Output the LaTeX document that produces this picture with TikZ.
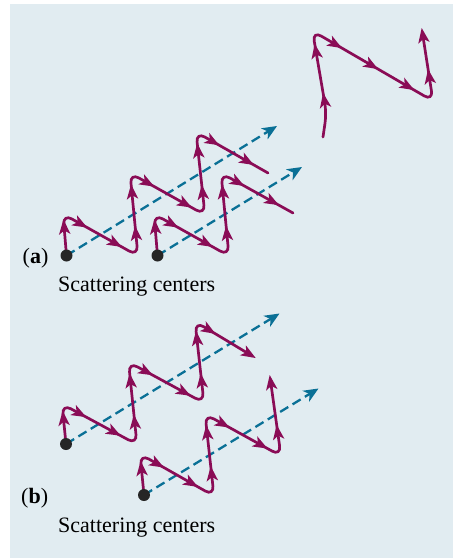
\documentclass[tikz,border=0pt]{standalone}
\usepackage{fontspec}
\setmainfont{Liberation Serif}
\usetikzlibrary{decorations.markings}
\definecolor{bgc}{RGB}{225,236,241}
\definecolor{wavec}{RGB}{138,12,86}
\definecolor{dashc}{RGB}{10,112,150}
\tikzset{
  wave/.style={draw=wavec, line width=2.7pt, rounded corners=10pt, line cap=round},
  wend/.style={shorten >=8pt},
  ray/.style={draw=dashc, line width=2.3pt, dash pattern=on 9.5pt off 5pt, shorten >=9pt},
  dot/.style={circle, fill=black!85, inner sep=0pt, minimum size=12pt},
  lbl/.style={inner sep=0pt, anchor=base west, font=\fontsize{22}{26}\selectfont},
  ms/.style={postaction={decorate,decoration={markings,mark=at position #1 with
     {\fill[wavec] (2pt,0pt) -- (-13pt,5.8pt) -- (-9pt,0pt) -- (-13pt,-5.8pt) -- cycle;}}}},
  rs/.style={postaction={decorate,decoration={markings,mark=at position 1 with
     {\fill[dashc] (0pt,0pt) -- (-15pt,6.5pt) -- (-10.5pt,0pt) -- (-15pt,-6.5pt) -- cycle;}}}},
}
\newcommand\wseg[3]{\path[ms/.list={#3}] (#1) -- (#2);}
\begin{document}
\begin{tikzpicture}[x=1pt,y=-1pt]
\useasboundingbox (0,0) rectangle (453,558);
\fill[white] (0,0) rectangle (453,558);
\fill[bgc] (10,4) rectangle (453,558);

% ---------- panel (a) ----------
\coordinate (A1c) at (66.5,255.5);
\coordinate (A2c) at (157.5,255.5);
\coordinate (A1e) at (277,126);
\coordinate (A2e) at (302,167);
\draw[ray] (A1c) -- (A1e);
\draw[ray] (A2c) -- (A2e);
\path[rs] (A1c) -- (A1e);
\path[rs] (A2c) -- (A2e);

\coordinate (A1t1) at (63,214);
\coordinate (A1b1) at (138,256);
\coordinate (A1t2) at (130,173);
\coordinate (A1b2) at (205,215);
\coordinate (A1t3) at (196,132);
\coordinate (A1z) at (268,173);
\draw[wave] (A1c) -- (A1t1) -- (A1b1) -- (A1t2) -- (A1b2) -- (A1t3) -- (A1z);
\wseg{A1c}{A1t1}{0.82}
\wseg{A1t1}{A1b1}{0.3,0.76}
\wseg{A1b1}{A1t2}{0.34,0.84}
\wseg{A1t2}{A1b2}{0.3,0.8}
\wseg{A1b2}{A1t3}{0.34,0.84}
\wseg{A1t3}{A1z}{0.3,0.78}

\coordinate (A2t1) at (154,214);
\coordinate (A2b1) at (229,256);
\coordinate (A2t2) at (221,173);
\coordinate (A2z) at (293,213);
\draw[wave] (A2c) -- (A2t1) -- (A2b1) -- (A2t2) -- (A2z);
\wseg{A2c}{A2t1}{0.82}
\wseg{A2t1}{A2b1}{0.3,0.76}
\wseg{A2b1}{A2t2}{0.34,0.84}
\wseg{A2t2}{A2z}{0.3,0.78}

\node[dot] (A1) at (A1c) {};
\node[dot] (A2) at (A2c) {};

% far wave
\coordinate (F0) at (323,137);
\coordinate (F1) at (326.5,113);
\coordinate (Ft) at (312.5,31);
\coordinate (Fb) at (433,101);
\coordinate (Fe) at (422,30);
\draw[wave,wend] (F0) -- (F1) -- (Ft) -- (Fb) -- (Fe);
\wseg{F1}{Ft}{0.22,0.82}
\wseg{Ft}{Fb}{0.23,0.53,0.83}
\wseg{Fb}{Fe}{0.42,1}

\node[lbl] (la) at (22.5,263) {(\textbf{a})};
\node[lbl] (sa) at (58,291) {Scattering centers};

% ---------- panel (b) ----------
\coordinate (B1c) at (66,444);
\coordinate (B2c) at (144,495);
\coordinate (B1e) at (279.5,313.5);
\coordinate (B2e) at (318.5,388.5);
\draw[ray] (B1c) -- (B1e);
\draw[ray] (B2c) -- (B2e);
\path[rs] (B1c) -- (B1e);
\path[rs] (B2c) -- (B2e);

\coordinate (B1t1) at (62,404);
\coordinate (B1b1) at (137,444.5);
\coordinate (B1t2) at (128.5,362);
\coordinate (B1b2) at (204,403);
\coordinate (B1t3) at (195,321.5);
\coordinate (B1z) at (254,357);
\draw[wave,wend] (B1c) -- (B1t1) -- (B1b1) -- (B1t2) -- (B1b2) -- (B1t3) -- (B1z);
\wseg{B1c}{B1t1}{0.78}
\wseg{B1t1}{B1b1}{0.3,0.76}
\wseg{B1b1}{B1t2}{0.34,0.84}
\wseg{B1t2}{B1b2}{0.3,0.8}
\wseg{B1b2}{B1t3}{0.34,0.86}
\wseg{B1t3}{B1z}{0.32,1}

\coordinate (B2t1) at (140,454);
\coordinate (B2b1) at (214,496);
\coordinate (B2t2) at (205,414);
\coordinate (B2b2) at (281,456);
\coordinate (B2z) at (270,377);
\draw[wave,wend] (B2c) -- (B2t1) -- (B2b1) -- (B2t2) -- (B2b2) -- (B2z);
\wseg{B2c}{B2t1}{0.78}
\wseg{B2t1}{B2b1}{0.3,0.76}
\wseg{B2b1}{B2t2}{0.34,0.84}
\wseg{B2t2}{B2b2}{0.3,0.8}
\wseg{B2b2}{B2z}{0.37,1}

\node[dot] (B1) at (B1c) {};
\node[dot] (B2) at (B2c) {};

\node[lbl] (lb) at (21,503) {(\textbf{b})};
\node[lbl] (sb) at (58,532) {Scattering centers};
\end{tikzpicture}
\end{document}
